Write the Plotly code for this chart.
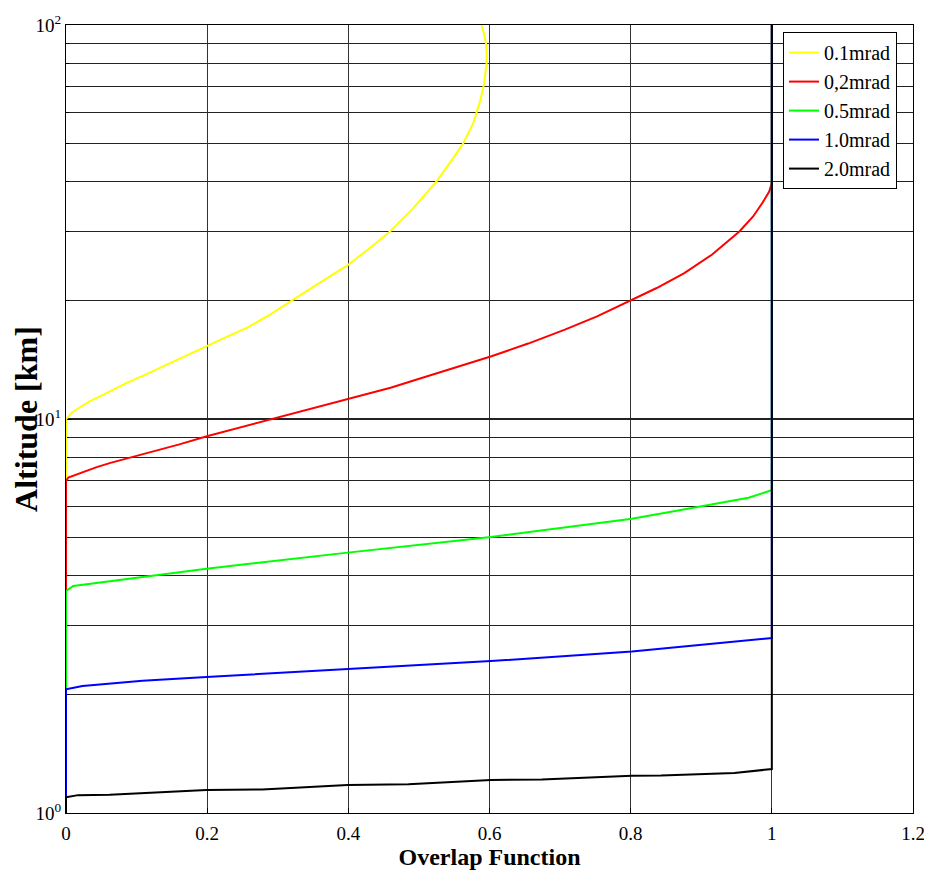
import plotly.graph_objects as go

# ---- data ----
series_names = ["0.1mrad", "0,2mrad", "0.5mrad", "1.0mrad", "2.0mrad"]
series_colors = ["#FFFF00", "#FF0000", "#00FF00", "#0000FF", "#000000"]

x_01 = [0, 0, 0.0019, 0.008, 0.0198, 0.034, 0.0482, 0.067, 0.086, 0.1095, 0.133,
        0.166, 0.1993, 0.2276, 0.256, 0.289, 0.322, 0.3598, 0.400, 0.4306, 0.459,
        0.492, 0.525, 0.5486, 0.5628, 0.577, 0.5864, 0.592, 0.5959, 0.5959, 0.595,
        0.592, 0.5888]
alt_01 = [1.0, 10.0, 10.07, 10.37, 10.71, 11.10, 11.42, 11.88, 12.35, 12.89, 13.49,
          14.34, 15.30, 16.16, 17.03, 18.40, 20.09, 22.14, 24.64, 27.16, 29.93,
          34.30, 40.08, 45.93, 50.12, 56.34, 63.9, 70.45, 79.97, 85.56, 89.86,
          95.28, 100.0]

x_02 = [0, 0, 0.0032, 0.011, 0.024, 0.0435, 0.063, 0.089, 0.1216, 0.1606, 0.1996,
        0.2452, 0.2907, 0.3427, 0.4013, 0.4598, 0.5118, 0.5573, 0.6028, 0.6548,
        0.7068, 0.7524, 0.8024, 0.8369, 0.876, 0.915, 0.954, 0.9735, 0.9865,
        0.9963, 1.0, 1.0]
alt_02 = [1.0, 6.95, 7.10, 7.19, 7.33, 7.55, 7.74, 7.97, 8.24, 8.62, 9.04,
          9.50, 10.0, 10.57, 11.25, 12.0, 12.84, 13.61, 14.43, 15.54,
          16.86, 18.22, 20.09, 21.5, 23.47, 26.12, 29.93, 32.66, 35.32,
          37.8, 39.7, 100.0]

x_05 = [0, 0, 0.0103, 0.056, 0.199, 0.399, 0.602, 0.8018, 0.915, 0.967, 1.0, 1.0]
alt_05 = [1.0, 3.66, 3.77, 3.86, 4.17, 4.58, 5.02, 5.58, 6.07, 6.31, 6.60, 100.0]

x_10 = [0, 0, 0.0234, 0.1085, 0.199, 0.399, 0.602, 0.8018, 0.934, 1.0, 1.0]
alt_10 = [1.0, 2.06, 2.10, 2.165, 2.215, 2.317, 2.43, 2.57, 2.71, 2.78, 100.0]

x_20 = [0, 0, 0.017, 0.062, 0.199, 0.278, 0.399, 0.485, 0.602, 0.674, 0.8018,
        0.843, 0.947, 1.0, 1.0]
alt_20 = [1.0, 1.096, 1.11, 1.112, 1.144, 1.148, 1.178, 1.183, 1.213, 1.217, 1.243,
          1.245, 1.263, 1.293, 100.0]

x_tickvals = [0, 0.2, 0.4, 0.6, 0.8, 1.0, 1.2]
x_ticktext = ["0", "0.2", "0.4", "0.6", "0.8", "1", "1.2"]
y_tickvals = [1, 10, 100]
y_ticktext = ["10<sup>0</sup>", "10<sup>1</sup>", "10<sup>2</sup>"]
y_minorvals = [2, 3, 4, 5, 6, 7, 8, 9, 20, 30, 40, 50, 60, 70, 80, 90]

x_title = "Overlap Function"
y_title = "Altitude [km]"

SERIF = "Liberation Serif, Times New Roman, serif"

xs = [x_01, x_02, x_05, x_10, x_20]
ys = [alt_01, alt_02, alt_05, alt_10, alt_20]

fig = go.Figure()
for name, color, xv, yv in zip(series_names, series_colors, xs, ys):
    fig.add_trace(go.Scatter(x=xv, y=yv, mode="lines", name=name,
                             line=dict(color=color, width=2)))

# the page body has an 8px margin, offsetting the figure by 8px
fig.update_layout(
    width=924, height=877,
    margin=dict(l=58, r=19, t=17, b=72, autoexpand=False),
    paper_bgcolor="white", plot_bgcolor="white",
    font=dict(family=SERIF, color="black", size=18),
    showlegend=True,
    legend=dict(x=0.8465, y=0.991, xanchor="left", yanchor="top",
                bgcolor="white", bordercolor="black", borderwidth=1,
                font=dict(family=SERIF, size=20, color="black"),
                itemwidth=30, tracegroupgap=0),
)

fig.update_xaxes(
    range=[0, 1.2], tickvals=x_tickvals, ticktext=x_ticktext, automargin=False,
    ticklabeloverflow="allow", ticklabelstandoff=3,
    showline=True, mirror=True, linecolor="black", linewidth=1, layer="below traces",
    ticks="inside", ticklen=5, tickcolor="black",
    showgrid=True, gridcolor="#333333", gridwidth=1, zeroline=False,
    tickfont=dict(family=SERIF, size=19),
    title=dict(text="<b>" + x_title + "</b>", font=dict(family=SERIF, size=24), standoff=4),
)
fig.update_yaxes(
    type="log", range=[0, 2], tickvals=y_tickvals, ticktext=y_ticktext, automargin=False,
    ticklabeloverflow="allow",
    showline=True, mirror=True, linecolor="black", linewidth=1, layer="below traces",
    ticks="inside", ticklen=5, tickcolor="black",
    showgrid=True, gridcolor="#222222", gridwidth=2, zeroline=False,
    tickfont=dict(family=SERIF, size=19),
    minor=dict(tickvals=y_minorvals, showgrid=True, gridcolor="#222222", gridwidth=1,
               ticks="inside", ticklen=3, tickcolor="black"),
    title=dict(text="<b>" + y_title + "</b>", font=dict(family=SERIF, size=32), standoff=0),
)

fig.write_html("out.html")
